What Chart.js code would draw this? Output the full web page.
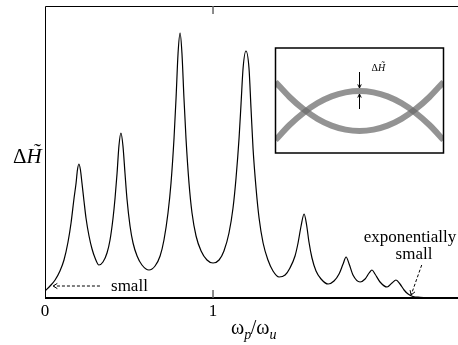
<!DOCTYPE html>
<html><head><meta charset="utf-8">
<script src="https://cdn.jsdelivr.net/npm/chart.js@4.4.0/dist/chart.umd.min.js"></script>
<style>
html,body{margin:0;padding:0;background:#fff;overflow:hidden}
#wrap{position:relative;width:458px;height:345px}
#main{position:absolute;left:0;top:0}
#inset{position:absolute;left:274px;top:47px}
</style></head><body>
<div id="wrap"><canvas id="main" width="458" height="345"></canvas><canvas id="inset" width="171" height="107"></canvas></div>
<script>
// ---- data ----
const omegaRatio = [0,0.030,0.060,0.089,0.113,0.137,0.155,0.173,0.185,0.193,0.202,0.211,0.220,0.232,0.244,0.262,0.280,0.298,0.321,
  0.345,0.369,0.387,0.405,0.417,0.429,0.440,0.452,0.464,0.476,0.488,0.506,0.524,0.548,0.577,0.619,
  0.655,0.685,0.708,0.732,0.750,0.768,0.780,0.792,0.804,0.815,0.827,0.839,0.857,0.875,0.899,0.929,0.964,1.000,
  1.036,1.065,1.095,1.119,1.137,1.155,1.167,1.179,1.196,1.214,1.226,1.238,1.256,1.274,1.298,1.327,1.357,1.393,
  1.429,1.458,1.488,1.506,1.524,1.542,1.557,1.571,1.589,1.613,1.643,1.685,
  1.720,1.750,1.774,1.792,1.810,1.833,1.875,
  1.905,1.929,1.946,1.964,1.994,2.036,
  2.065,2.089,2.113,2.137,2.161,2.190,2.232,2.292,2.381,2.458];
const deltaH = [0.07,0.12,0.18,0.27,0.38,0.56,0.75,1.00,1.15,1.28,1.34,1.28,1.15,0.97,0.80,0.62,0.49,0.40,0.33,
  0.36,0.45,0.58,0.80,1.00,1.25,1.52,1.65,1.52,1.25,0.99,0.72,0.55,0.42,0.33,0.28,
  0.32,0.42,0.58,0.85,1.15,1.60,2.00,2.45,2.65,2.45,2.00,1.60,1.15,0.85,0.62,0.47,0.38,0.35,
  0.38,0.47,0.65,0.90,1.20,1.60,1.95,2.30,2.47,2.30,1.90,1.50,1.10,0.80,0.55,0.38,0.27,0.21,
  0.23,0.30,0.42,0.55,0.72,0.84,0.73,0.56,0.40,0.27,0.19,0.14,
  0.17,0.24,0.34,0.41,0.34,0.23,0.16,
  0.19,0.25,0.28,0.24,0.16,0.11,
  0.15,0.18,0.14,0.08,0.04,0.015,0.007,0.003,0.001,0];
const xTickValues = [0, 1];
const xTickLabels = ['0', '1'];

// inset: two crossing branches
const insetPhase = [-1,-0.833,-0.667,-0.5,-0.333,-0.167,0,0.167,0.333,0.5,0.667,0.833,1];
const insetUpper = [-1.45,-0.70,-0.09,0.39,0.73,0.93,1.0,0.93,0.73,0.39,-0.09,-0.70,-1.45];
const insetLower = [1.45,0.70,0.09,-0.39,-0.73,-0.93,-1.0,-0.93,-0.73,-0.39,0.09,0.70,1.45];

const SERIF = '"Liberation Serif","Times New Roman",serif';

function arrowHead(ctx, tx, ty, fx, fy, len, spread){
  const ang = Math.atan2(fy-ty, fx-tx);
  ctx.beginPath();
  ctx.moveTo(tx + len*Math.cos(ang-spread), ty + len*Math.sin(ang-spread));
  ctx.lineTo(tx, ty);
  ctx.lineTo(tx + len*Math.cos(ang+spread), ty + len*Math.sin(ang+spread));
  ctx.stroke();
}

const mainDecor = {
  id: 'mainDecor',
  afterDraw(chart){
    const {ctx, chartArea: a, scales: {x, y}} = chart;
    ctx.save();
    // frame
    ctx.strokeStyle = '#000';
    ctx.lineWidth = 1;
    ctx.beginPath();
    ctx.moveTo(a.left + 0.5, a.bottom);
    ctx.lineTo(a.left + 0.5, a.top + 0.5);
    ctx.lineTo(a.right, a.top + 0.5);
    ctx.stroke();
    ctx.lineWidth = 1.8;
    ctx.beginPath();
    ctx.moveTo(a.left, a.bottom);
    ctx.lineTo(a.right, a.bottom);
    ctx.stroke();
    // ticks and labels
    ctx.fillStyle = '#000';
    ctx.font = '17px ' + SERIF;
    ctx.textAlign = 'center';
    ctx.textBaseline = 'alphabetic';
    xTickValues.forEach((v, i) => {
      const px = x.getPixelForValue(v);
      if (v > x.min) {
        ctx.strokeStyle = '#666';
        ctx.lineWidth = 1.5;
        ctx.beginPath();
        ctx.moveTo(px, a.top); ctx.lineTo(px, a.top + 8);
        ctx.moveTo(px, a.bottom - 8); ctx.lineTo(px, a.bottom);
        ctx.stroke();
      }
      ctx.fillText(xTickLabels[i], px, a.bottom + 18);
    });
    // x title  ω_p / ω_u
    ctx.textAlign = 'left';
    let cx = 231;
    const big = '20px ' + SERIF, sub = 'italic 14px ' + SERIF;
    ctx.font = big; ctx.fillText('ω', cx, 334); cx += ctx.measureText('ω').width;
    ctx.font = sub; ctx.fillText('p', cx, 339); cx += ctx.measureText('p').width - 0.5;
    ctx.font = big; ctx.fillText('/', cx, 334); cx += ctx.measureText('/').width;
    ctx.fillText('ω', cx, 334); cx += ctx.measureText('ω').width;
    ctx.font = sub; ctx.fillText('u', cx, 339);
    // y title  ΔH̃
    ctx.font = '21px ' + SERIF;
    ctx.fillText('Δ', 13, 163);
    const dw = ctx.measureText('Δ').width;
    ctx.font = 'italic 21px ' + SERIF;
    ctx.fillText('H', 13 + dw, 163);
    const hw = ctx.measureText('H').width;
    ctx.textAlign = 'center';
    ctx.fillText('˜', 13 + dw + hw/2 + 2, 158);

    // annotation: small
    ctx.strokeStyle = '#000';
    ctx.lineWidth = 1;
    const sx0 = x.getPixelForValue(0.327), sx1 = x.getPixelForValue(0.048), sy = y.getPixelForValue(0.12);
    ctx.setLineDash([3, 2]);
    ctx.beginPath(); ctx.moveTo(sx0, sy); ctx.lineTo(sx1 + 1, sy); ctx.stroke();
    ctx.setLineDash([]);
    arrowHead(ctx, sx1, sy, sx0, sy, 5, 0.55);
    ctx.font = '17px ' + SERIF;
    ctx.textAlign = 'left';
    ctx.fillText('small', x.getPixelForValue(0.393), 291);

    // annotation: exponentially small
    ctx.textAlign = 'center';
    ctx.fillText('exponentially', 410, 242);
    ctx.fillText('small', 414, 259);
    const ex0 = x.getPixelForValue(2.242), ey0 = y.getPixelForValue(0.33);
    const ex1 = x.getPixelForValue(2.179), ey1 = y.getPixelForValue(0.03);
    ctx.setLineDash([3, 2]);
    ctx.beginPath(); ctx.moveTo(ex0, ey0); ctx.lineTo(ex1, ey1); ctx.stroke();
    ctx.setLineDash([]);
    arrowHead(ctx, ex1, ey1, ex0, ey0, 5, 0.55);
    ctx.restore();
  }
};

new Chart(document.getElementById('main'), {
  type: 'line',
  data: {
    datasets: [{
      data: omegaRatio.map((v, i) => ({x: v, y: deltaH[i]})),
      borderColor: '#000',
      borderWidth: 1.2,
      pointRadius: 0,
      fill: false,
      cubicInterpolationMode: 'monotone'
    }]
  },
  options: {
    responsive: false,
    animation: false,
    events: [],
    layout: {padding: {left: 45, top: 6, right: 0, bottom: 47}},
    scales: {
      x: {type: 'linear', min: 0, max: 2.458, display: false},
      y: {type: 'linear', min: 0, max: 2.92, display: false}
    },
    plugins: {legend: {display: false}, tooltip: {enabled: false}}
  },
  plugins: [mainDecor]
});

const insetDecor = {
  id: 'insetDecor',
  afterDraw(chart){
    const {ctx, chartArea: a, scales: {x, y}} = chart;
    ctx.save();
    ctx.strokeStyle = '#000';
    ctx.lineWidth = 1.5;
    ctx.strokeRect(a.left, a.top, a.right - a.left, a.bottom - a.top);
    // arrows marking the gap
    const px = x.getPixelForValue(0);
    const peak = y.getPixelForValue(1.0);
    ctx.lineWidth = 1;
    const t1 = peak - 3, t2 = peak + 3;
    ctx.beginPath(); ctx.moveTo(px, t1 - 16); ctx.lineTo(px, t1); ctx.stroke();
    arrowHead(ctx, px, t1, px, t1 - 10, 4, 0.45);
    ctx.beginPath(); ctx.moveTo(px, t2 + 15); ctx.lineTo(px, t2); ctx.stroke();
    arrowHead(ctx, px, t2, px, t2 + 10, 4, 0.45);
    // label
    ctx.fillStyle = '#000';
    ctx.textAlign = 'left';
    ctx.textBaseline = 'alphabetic';
    ctx.font = '10px ' + SERIF;
    const lx = px + 12, ly = peak - 20;
    ctx.fillText('Δ', lx, ly);
    const dw = ctx.measureText('Δ').width;
    ctx.font = 'italic 10px ' + SERIF;
    ctx.fillText('H', lx + dw, ly);
    const hw = ctx.measureText('H').width;
    ctx.textAlign = 'center';
    ctx.fillText('˜', lx + dw + hw/2 + 1, ly - 2);
    ctx.restore();
  }
};

const bandColor = 'rgba(105,105,105,0.72)';
new Chart(document.getElementById('inset'), {
  type: 'line',
  data: {
    datasets: [
      {data: insetPhase.map((v, i) => ({x: v, y: insetUpper[i]})), borderColor: bandColor, borderWidth: 6, pointRadius: 0, cubicInterpolationMode: 'monotone', borderCapStyle: 'butt'},
      {data: insetPhase.map((v, i) => ({x: v, y: insetLower[i]})), borderColor: bandColor, borderWidth: 6, pointRadius: 0, cubicInterpolationMode: 'monotone', borderCapStyle: 'butt'}
    ]
  },
  options: {
    responsive: false,
    animation: false,
    events: [],
    layout: {padding: {left: 1.5, top: 1, right: 1.5, bottom: 1}},
    scales: {
      x: {type: 'linear', min: -1, max: 1, display: false},
      y: {type: 'linear', min: -2.1, max: 3.15, display: false}
    },
    plugins: {legend: {display: false}, tooltip: {enabled: false}}
  },
  plugins: [insetDecor]
});
</script>
</body></html>
